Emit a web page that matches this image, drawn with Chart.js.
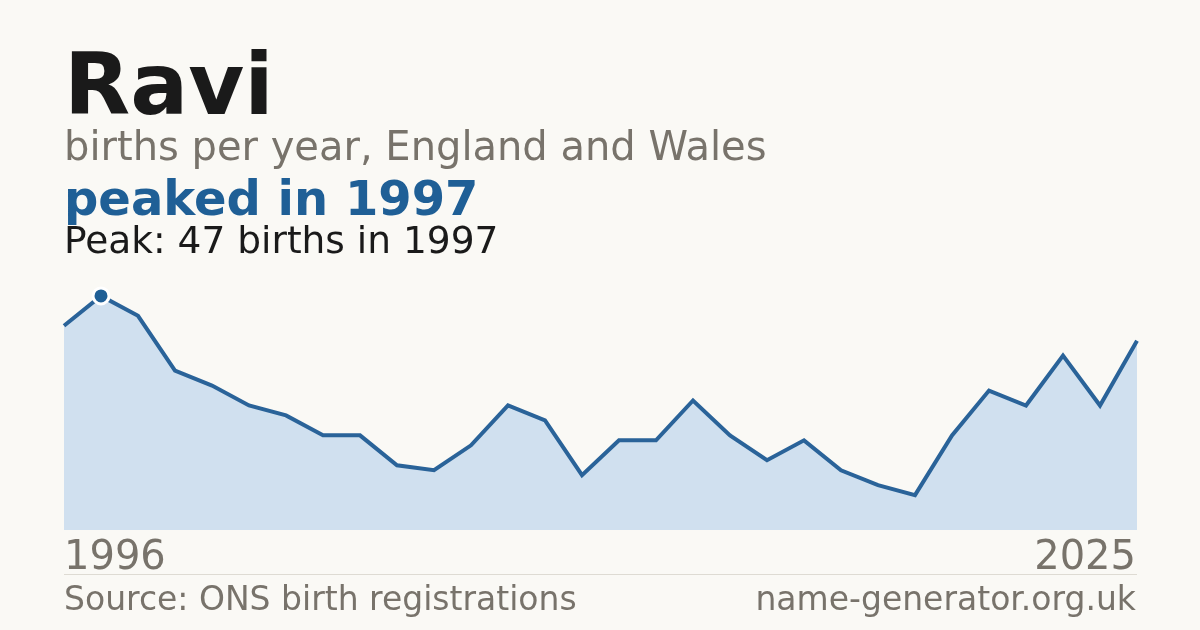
<!DOCTYPE html>
<html>
<head>
<meta charset="utf-8">
<script src="https://cdn.jsdelivr.net/npm/chart.js@4.4.1/dist/chart.umd.min.js"></script>
<style>
  html, body { margin: 0; padding: 0; }
  body {
    width: 1200px; height: 630px; overflow: hidden;
    background: #faf9f5;
    font-family: "DejaVu Sans", sans-serif;
    position: relative;
  }
  .t { position: absolute; line-height: 1; white-space: nowrap; }
  #title { left: 64px; top: 41px; font-size: 86px; font-weight: bold; color: #1a1a1a; }
  #subtitle { left: 64px; top: 126px; font-size: 40px; color: #78736b; }
  #headline { left: 64px; top: 174px; font-size: 48px; font-weight: bold; color: #1f5f96; }
  #peakNote { left: 64px; top: 222px; font-size: 37.5px; color: #1a1a1a; }
  #firstYear { left: 64px; top: 535px; font-size: 40px; color: #78736b; }
  #lastYear { right: 64px; top: 535px; font-size: 40px; color: #78736b; }
  #rule { position: absolute; left: 64px; width: 1073px; top: 574px; height: 1px; background: #dedbd3; }
  #source { left: 64px; top: 582px; font-size: 33px; color: #78736b; }
  #site { right: 64px; top: 582px; font-size: 33px; color: #78736b; }
  #wrap { position: absolute; left: 0; top: 0; width: 1200px; height: 630px; }
</style>
</head>
<body>
<div id="wrap"><canvas id="chart"></canvas></div>
<div class="t" id="title">Ravi</div>
<div class="t" id="subtitle">births per year, England and Wales</div>
<div class="t" id="headline"></div>
<div class="t" id="peakNote"></div>
<div class="t" id="firstYear"></div>
<div class="t" id="lastYear"></div>
<div id="rule"></div>
<div class="t" id="source">Source: ONS birth registrations</div>
<div class="t" id="site">name-generator.org.uk</div>

<script>
// --- Data ---
const years = [
    '1996', '1997', '1998', '1999', '2000', '2001', '2002', '2003', '2004', '2005',
    '2006', '2007', '2008', '2009', '2010', '2011', '2012', '2013', '2014', '2015',
    '2016', '2017', '2018', '2019', '2020', '2021', '2022', '2023', '2024', '2025'
];
const births = [
    41, 47, 43, 32, 29, 25, 23, 19, 19, 13,
    12, 17, 25, 22, 11, 18, 18, 26, 19, 14,
    18, 12, 9, 7, 19, 28, 25, 35, 25, 38
];
const xTickLabels = [years[0], years[years.length - 1]];

// --- Peak ---
let peakIdx = 0;
births.forEach((v, i) => { if (v > births[peakIdx]) peakIdx = i; });

document.getElementById('headline').textContent = 'peaked in ' + years[peakIdx];
document.getElementById('peakNote').textContent =
    'Peak: ' + births[peakIdx] + ' births in ' + years[peakIdx];
document.getElementById('firstYear').textContent = xTickLabels[0];
document.getElementById('lastYear').textContent = xTickLabels[1];

// only the peak gets a marker
const radii = births.map((v, i) => i === peakIdx ? 8 : 0);

// --- Chart ---
const ctx = document.getElementById('chart').getContext('2d');
new Chart(ctx, {
    type: 'line',
    data: {
        labels: years,
        datasets: [{
            data: births,
            borderColor: '#2a6399',
            borderWidth: 4,
            backgroundColor: '#d0e0ef',
            fill: 'origin',
            tension: 0,
            pointRadius: radii,
            pointHoverRadius: radii,
            pointBackgroundColor: '#1f5f96',
            pointBorderColor: '#ffffff',
            pointBorderWidth: 3
        }]
    },
    options: {
        responsive: true,
        maintainAspectRatio: false,
        animation: false,
        layout: { padding: { left: 64, right: 63, top: 271, bottom: 100 } },
        plugins: {
            legend: { display: false },
            tooltip: { enabled: false }
        },
        scales: {
            x: { display: false },
            y: { display: false, min: 0, max: 52 }
        }
    }
});
</script>
</body>
</html>
